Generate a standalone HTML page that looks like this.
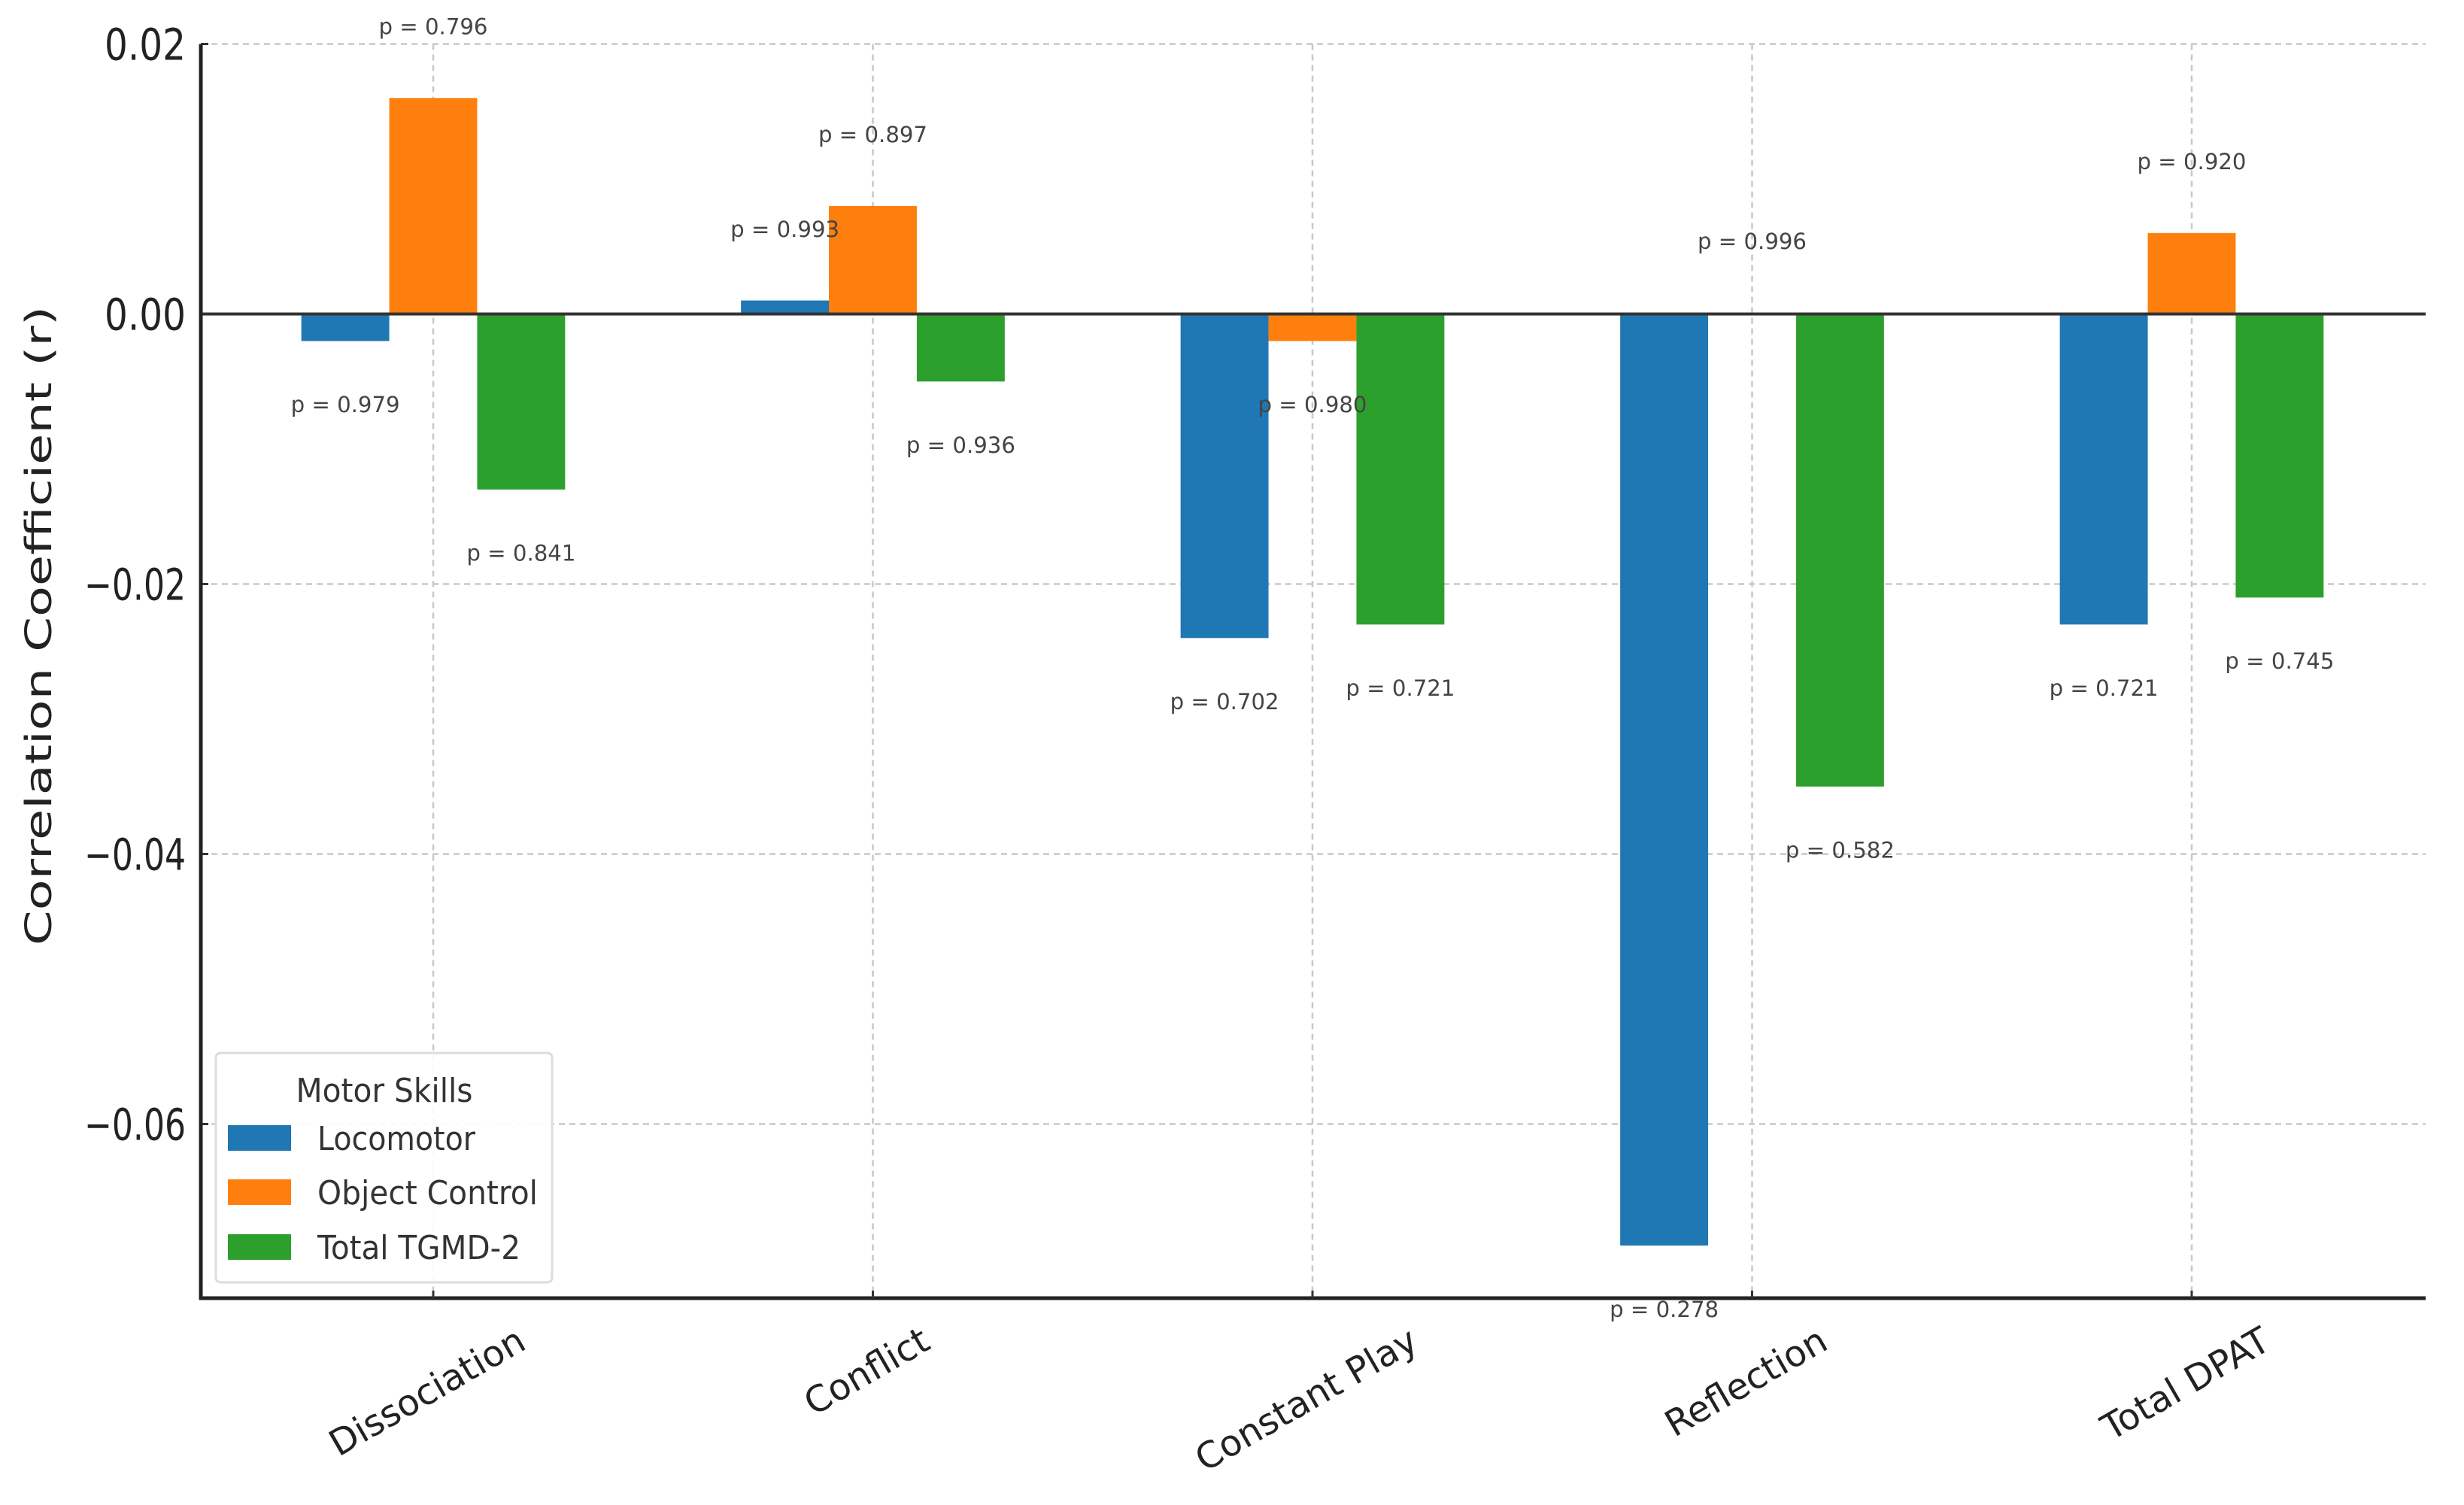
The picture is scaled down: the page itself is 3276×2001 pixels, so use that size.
<!DOCTYPE html>
<html><head><meta charset="utf-8"><style>
html,body{margin:0;padding:0;background:#fff;}
svg{display:block;font-family:"DejaVu Sans","Liberation Sans",sans-serif;}
</style></head><body>
<svg id="chart" width="3276" height="2001" viewBox="0 0 3276 2001" xmlns="http://www.w3.org/2000/svg">
<g id="grid"></g>
<g id="bars"></g>
<g id="plabels"></g>
<g id="axes"></g>
<text x="0" y="0" transform="translate(68,832) rotate(-90)" text-anchor="middle" font-size="48" fill="#222" textLength="850" lengthAdjust="spacingAndGlyphs">Correlation Coefficient (r)</text>
<g>
<rect x="287" y="1400" width="447" height="305" rx="6" fill="#fff" fill-opacity="0.9" stroke="#ddd" stroke-width="3"/>
<text x="511" y="1465" text-anchor="middle" font-size="44" fill="#333" textLength="235" lengthAdjust="spacingAndGlyphs">Motor Skills</text>
<g id="legend-entries"></g>
</g>
</svg>
<script>
const categories = ["Dissociation","Conflict","Constant Play","Reflection","Total DPAT"];
const seriesNames = ["Locomotor","Object Control","Total TGMD-2"];
const locomotor = [-0.002, 0.001, -0.024, -0.069, -0.023];
const objectControl = [0.016, 0.008, -0.002, 0.0001, 0.006];
const totalTGMD = [-0.013, -0.005, -0.023, -0.035, -0.021];
const pLocomotor = ["0.979","0.993","0.702","0.278","0.721"];
const pObject = ["0.796","0.897","0.980","0.996","0.920"];
const pTotal = ["0.841","0.936","0.721","0.582","0.745"];
const yTicks = [0.02, 0.00, -0.02, -0.04, -0.06];
const yTickLabels = ["0.02","0.00","\u22120.02","\u22120.04","\u22120.06"];

const NS = "http://www.w3.org/2000/svg";
const colors = ["#1f77b4","#ff7f0e","#2ca02c"];
const X0 = 267, X1 = 3225, Y0 = 58.5, YB = 1726;
const yZero = 417.5, pxPerUnit = 17950;
const y = v => yZero - v * pxPerUnit;
const xFirst = 576, xStep = 584.5;
const x = i => xFirst + i * xStep;
const barW = 0.2 * xStep;
function el(tag, attrs, parent, text){
  const e = document.createElementNS(NS, tag);
  for (const k in attrs) e.setAttribute(k, attrs[k]);
  if (text !== undefined) e.textContent = text;
  parent.appendChild(e); return e;
}
const grid = document.getElementById('grid');
const bars = document.getElementById('bars');
const pl = document.getElementById('plabels');
const axes = document.getElementById('axes');

yTicks.forEach((t, i) => {
  if (t !== 0) {
    const g = el('line', {x1:X0, x2:X1, y1:y(t), y2:y(t), stroke:'#c8c8c8', 'stroke-width':2.5, 'stroke-dasharray':'8,6'}, grid);
    
    
  }
  const tk = el('line', {x1:X0, x2:X0+10, y1:y(t), y2:y(t), stroke:'#333', 'stroke-width':3}, axes);
  
  
  const lbl = el('text', {x:247, y:y(t)+21, 'text-anchor':'end', 'font-size':58, fill:'#222'}, axes, yTickLabels[i]);
  lbl.setAttribute('textLength', yTickLabels[i].length * 27);
  lbl.setAttribute('lengthAdjust', 'spacingAndGlyphs');
  
  
});
categories.forEach((c, i) => {
  const g = el('line', {x1:x(i), x2:x(i), y1:Y0, y2:YB, stroke:'#c8c8c8', 'stroke-width':2.5, 'stroke-dasharray':'8,6'}, grid);
  
  
});

const series = [locomotor, objectControl, totalTGMD];
const pvals = [pLocomotor, pObject, pTotal];
series.forEach((vals, s) => {
  vals.forEach((v, i) => {
    const cx = x(i) + (s - 1) * barW;
    const top = Math.min(y(v), yZero), h = Math.abs(y(v) - yZero);
    const r = el('rect', {x:cx - barW/2, y:top, width:barW, height:h, fill:colors[s]}, bars);
    
    
    const ly = v >= 0 ? y(v + 0.005) : y(v - 0.005);
    const t = el('text', {x:cx, y:ly + 5, 'text-anchor':'middle', 'font-size':29, fill:'#444'}, pl, 'p = ' + pvals[s][i]);
    t.setAttribute('textLength', 145);
    t.setAttribute('lengthAdjust', 'spacingAndGlyphs');
    
    
  });
});

const z = el('line', {x1:X0, x2:X1, y1:yZero, y2:yZero, stroke:'#333', 'stroke-width':4}, axes);


const ya = el('line', {x1:X0, x2:X0, y1:Y0, y2:YB+2, stroke:'#222', 'stroke-width':5}, axes);


const xa = el('line', {x1:X0-2, x2:X1, y1:YB, y2:YB, stroke:'#222', 'stroke-width':5}, axes);



categories.forEach((c, i) => {
  const tk = el('line', {x1:x(i), x2:x(i), y1:YB, y2:YB-10, stroke:'#333', 'stroke-width':3}, axes);
  
  
  const t = el('text', {x:0, y:0, 'text-anchor':'middle', 'font-size':48, fill:'#222'}, axes, c);
  const L = t.getComputedTextLength();
  const cy = 1752 + (L * 0.5 + 48) / 2;
  t.setAttribute('transform', 'translate(' + x(i) + ',' + (cy + 16) + ') rotate(-30)');
  
  
});

const le = document.getElementById('legend-entries');
const legY = [1513, 1585, 1658];
seriesNames.forEach((n, s) => {
  const r = el('rect', {x:303, y:legY[s]-17, width:84, height:34, fill:colors[s]}, le);
  
  
  const t = el('text', {x:422, y:legY[s]+16, 'font-size':44, fill:'#333'}, le, n);
  t.setAttribute('textLength', [210, 293, 270][s]);
  t.setAttribute('lengthAdjust', 'spacingAndGlyphs');
  
  
});
</script>
</body></html>
